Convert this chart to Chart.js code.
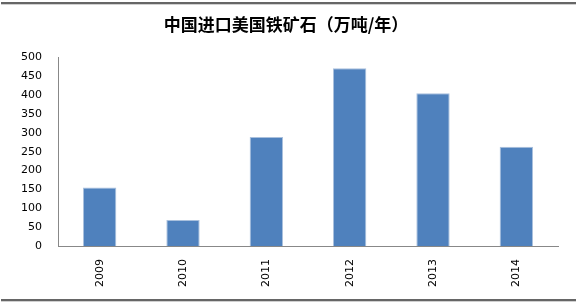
<!DOCTYPE html>
<html>
<head>
<meta charset="utf-8">
<script src="https://cdn.jsdelivr.net/npm/chart.js@4"></script>
<style>
  html, body { margin: 0; padding: 0; background: #fff; }
  #wrap { width: 577px; height: 304px; }
</style>
</head>
<body>
<div id="wrap"><canvas id="myChart" width="577" height="304"></canvas></div>
<script>
// datos
const years = ["2009", "2010", "2011", "2012", "2013", "2014"];
const imports = [155, 69, 289, 471, 405, 263];
const yTicks = [0, 50, 100, 150, 200, 250, 300, 350, 400, 450, 500];
const chartTitle = "中国进口美国铁矿石（万吨/年）";

// lineas de marco arriba y abajo
const frame = {
  id: "frame",
  beforeDraw(chart) {
    const ctx = chart.ctx;
    ctx.save();
    ctx.fillStyle = "#fff";
    ctx.fillRect(0, 0, chart.width, chart.height);
    ctx.fillStyle = "#666";
    ctx.fillRect(1, 2, 575, 2);
    ctx.fillRect(1, 299, 575, 2);
    ctx.fillStyle = "#d0d0d0";
    ctx.fillRect(1, 4, 575, 1);
    ctx.fillRect(1, 301, 575, 1);
    ctx.restore();
  }
};

let grafico = document.getElementById("myChart").getContext("2d");

let myChart = new Chart(grafico, {
  type: "bar",
  data: {
    labels: years,
    datasets: [{
      label: chartTitle,
      data: imports,
      backgroundColor: "#4F81BD",
      borderColor: "#a9c0dd",
      borderWidth: 1,
      barPercentage: 0.8,
      categoryPercentage: 0.5
    }]
  },
  options: {
    responsive: false,
    animation: false,
    layout: { padding: { top: 11, right: 19, bottom: 0, left: 14 } },
    plugins: {
      legend: { display: false },
      tooltip: { enabled: false },
      title: {
        display: true,
        text: chartTitle,
        color: "#000",
        font: { family: "'Noto Sans CJK SC'", size: 17, weight: "bold" },
        padding: { top: 3, bottom: 23 }
      }
    },
    scales: {
      x: {
        grid: { display: false, drawTicks: false },
        border: { display: true, color: "#888", width: 1 },
        ticks: {
          color: "#000",
          font: { family: "'DejaVu Sans'", size: 11 },
          minRotation: 90,
          maxRotation: 90,
          padding: 13
        },
        afterFit: (scale) => { scale.height = 58; }
      },
      y: {
        min: 0,
        max: 500,
        afterBuildTicks: (scale) => { scale.ticks = yTicks.map(v => ({ value: v })); },
        grid: { display: false, drawTicks: false },
        border: { display: true, color: "#888", width: 1 },
        ticks: {
          color: "#000",
          font: { family: "'DejaVu Sans'", size: 11 },
          padding: 16
        },
        afterFit: (scale) => { scale.width = 44; }
      }
    }
  },
  plugins: [frame]
});
</script>
</body>
</html>
